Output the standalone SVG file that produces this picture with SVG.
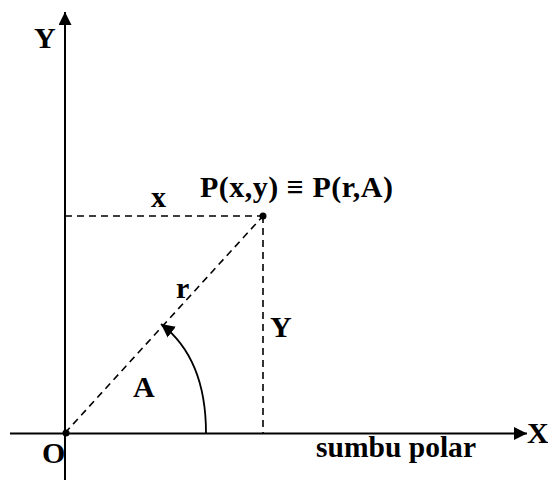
<svg xmlns="http://www.w3.org/2000/svg" width="548" height="480" viewBox="0 0 548 480">
<style>
.ax{stroke:#000;stroke-width:2;fill:none}
.arc{stroke:#000;stroke-width:1.8;fill:none}
.ds{stroke:#000;stroke-width:1.6;fill:none;stroke-dasharray:7,5}
.t{font-family:"Liberation Serif","Times New Roman",serif;font-weight:bold;font-size:30px;fill:#000}
</style>
<defs>
<marker id="ah" viewBox="0 0 10 10" refX="10" refY="5" markerWidth="7" markerHeight="6.5" markerUnits="strokeWidth" orient="auto">
<path d="M0,0 L10,5 L0,10 z" fill="#000"/>
</marker>
<marker id="ah2" viewBox="0 0 10 10" refX="10" refY="5" markerWidth="7.5" markerHeight="8" markerUnits="strokeWidth" orient="auto">
<path d="M0,0 L10,5 L0,10 z" fill="#000"/>
</marker>
</defs>
<g id="connectors">
<line class="ax" x1="65" y1="480" x2="65" y2="12" marker-end="url(#ah)"/>
<line class="ax" x1="10" y1="433.5" x2="527" y2="433.5" marker-end="url(#ah)"/>
<line class="ds" x1="65" y1="216" x2="263" y2="216"/>
<line class="ds" x1="263" y1="216" x2="263" y2="433"/>
<line class="ds" x1="65" y1="433" x2="263" y2="216"/>
<path class="arc" d="M206,433 C206,390 195,350 161,324" marker-end="url(#ah2)"/>
</g>
<g id="origin"><circle cx="66" cy="433" r="3.5" fill="#000"/><text class="t" x="42" y="463">O</text></g>
<g id="point"><circle cx="263" cy="216" r="3.5" fill="#000"/><text class="t" x="200" y="197" textLength="193" lengthAdjust="spacing">P(x,y) ≡ P(r,A)</text></g>
<g id="labels">
<text class="t" x="34" y="48">Y</text>
<text class="t" x="527" y="443">X</text>
<text class="t" x="151" y="207">x</text>
<text class="t" x="176" y="298">r</text>
<text class="t" x="270" y="337">Y</text>
<text class="t" x="133" y="397">A</text>
<text class="t" x="316" y="457" textLength="160" lengthAdjust="spacingAndGlyphs">sumbu polar</text>
</g>
</svg>
